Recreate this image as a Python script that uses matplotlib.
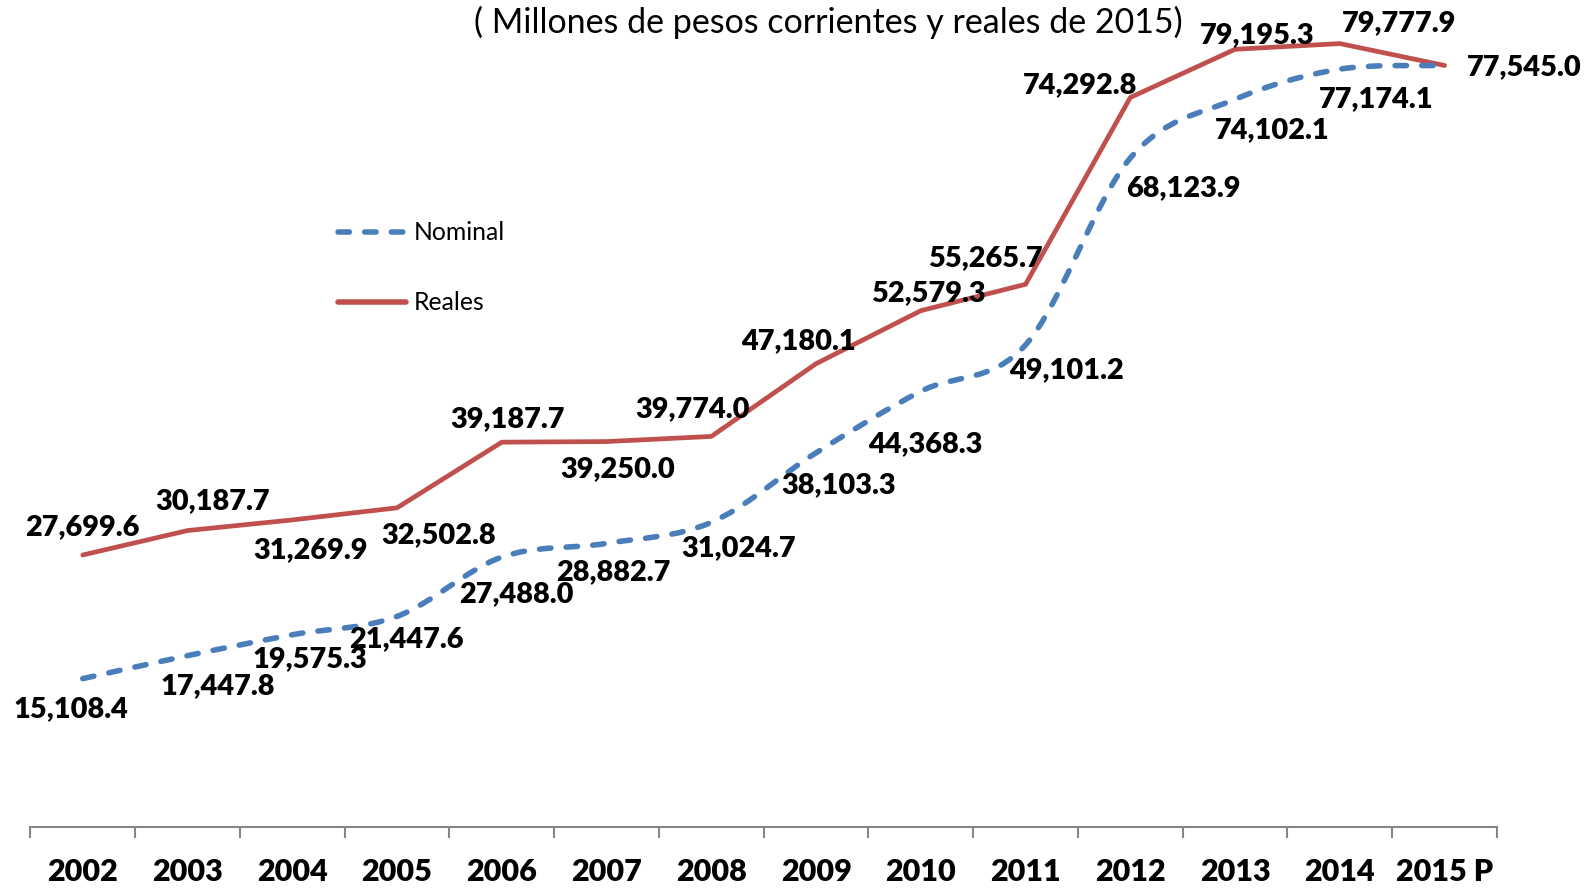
import matplotlib
matplotlib.use("Agg")
import matplotlib.pyplot as plt
from matplotlib.path import Path
from matplotlib.patches import PathPatch
from matplotlib.lines import Line2D
import numpy as np

years = ["2002", "2003", "2004", "2005", "2006", "2007", "2008", "2009",
         "2010", "2011", "2012", "2013", "2014", "2015 P"]
nominal = [15108.4, 17447.8, 19575.3, 21447.6, 27488.0, 28882.7, 31024.7,
           38103.3, 44368.3, 49101.2, 68123.9, 74102.1, 77174.1, 77545.0]
reales = [27699.6, 30187.7, 31269.9, 32502.8, 39187.7, 39250.0, 39774.0,
          47180.1, 52579.3, 55265.7, 74292.8, 79195.3, 79777.9, 77545.0]

# label offsets in pixels (dx, dy) relative to the point (dy positive = up)
s = 1.0147
off_reales = [(0, 27), (25, 29), (18, -30), (41, -27), (6, 23), (11, -27),
              (-18, 27), (-17, 22), (7, 17), (-40, 26), (-50, 12), (22, 14),
              (58, 20), (78, -2)]
off_nominal = [(-12, -30), (30, -30), (17, -24), (9, -22), (14, -37), (7, -28),
               (27, -25), (22, -32), (4, -52), (40, -25), (52, -30), (37, -30),
               (36, -30), None]

blue = "#4A7EBB"
red = "#C0504D"
font = "Lato"
lblw = "heavy"

fig = plt.figure(figsize=(15.91, 8.88), dpi=100)
ax = fig.add_axes([30.4 / 1591, (888 - 827) / 888, (1497 - 30.4) / 1591, 827 / 888])
ax.set_xlim(-0.5, len(years) - 0.5)
ax.set_ylim(0, 84215)
ax.patch.set_alpha(0)

x = np.arange(len(years))

# Reales: straight segments
ax.plot(x, reales, color=red, lw=3.4, solid_capstyle="round", solid_joinstyle="round", zorder=3)

# Nominal: smoothed Bezier curve through the data points
pts = np.column_stack([x, nominal]).astype(float)
verts = [tuple(pts[0])]
codes = [Path.MOVETO]
n = len(pts)
for i in range(n - 1):
    p0 = pts[i - 1] if i > 0 else pts[i]
    p1 = pts[i]
    p2 = pts[i + 1]
    p3 = pts[i + 2] if i + 2 < n else pts[i + 1]
    c1 = p1 + (p2 - p0) / 6.0
    c2 = p2 - (p3 - p1) / 6.0
    verts += [tuple(c1), tuple(c2), tuple(p2)]
    codes += [Path.CURVE4] * 3
dash = (0, (2.05, 2.75))
patch = PathPatch(Path(verts, codes), facecolor="none", edgecolor=blue, lw=4.0,
                  linestyle=dash, capstyle="round", zorder=3)
ax.add_patch(patch)

def fmt(v):
    return f"{v:,.1f}"

for i, v in enumerate(reales):
    dx, dy = off_reales[i]
    ax.annotate(fmt(v), (x[i], v), xytext=(dx * s, dy * s), textcoords="offset pixels",
                ha="center", va="center", fontsize=20.8, fontweight=lblw,
                family=font, color="black", zorder=5)
for i, v in enumerate(nominal):
    if off_nominal[i] is None:
        continue
    dx, dy = off_nominal[i]
    ax.annotate(fmt(v), (x[i], v), xytext=(dx * s, dy * s), textcoords="offset pixels",
                ha="center", va="center", fontsize=20.8, fontweight=lblw,
                family=font, color="black", zorder=5)

# axes styling
for sp in ["top", "left", "right"]:
    ax.spines[sp].set_visible(False)
ax.spines["bottom"].set_color("#868686")
ax.spines["bottom"].set_linewidth(1.5)
ax.set_yticks([])
ax.set_xticks(x)
ax.set_xticklabels(years, fontsize=22, fontweight=lblw, family=font)
ax.tick_params(axis="x", which="major", length=0, pad=22)
ax.set_xticks(np.arange(-0.5, len(years)), minor=True)
ax.tick_params(axis="x", which="minor", length=8, width=1.5, color="#868686", direction="out")

# title
fig.text(474 / 1591, 1 - 22.5 / 888, "( Millones de pesos corrientes y reales de 2015)",
         fontsize=24.5, family=font, ha="left", va="center", color="black")

# legend (manual)
ly1 = 1 - 232 / 888
ly2 = 1 - 302 / 888
fig.add_artist(Line2D([338 / 1591, 406 / 1591], [ly1, ly1], color=blue, lw=4.0,
                      linestyle=dash, dash_capstyle="round", transform=fig.transFigure))
fig.add_artist(Line2D([338 / 1591, 406 / 1591], [ly2, ly2], color=red, lw=4.0,
                      solid_capstyle="round", transform=fig.transFigure))
fig.text(414 / 1591, ly1, "Nominal", fontsize=17.8, family=font, ha="left", va="center")
fig.text(414 / 1591, ly2, "Reales", fontsize=17.8, family=font, ha="left", va="center")

fig.savefig("out.png", dpi=100)
